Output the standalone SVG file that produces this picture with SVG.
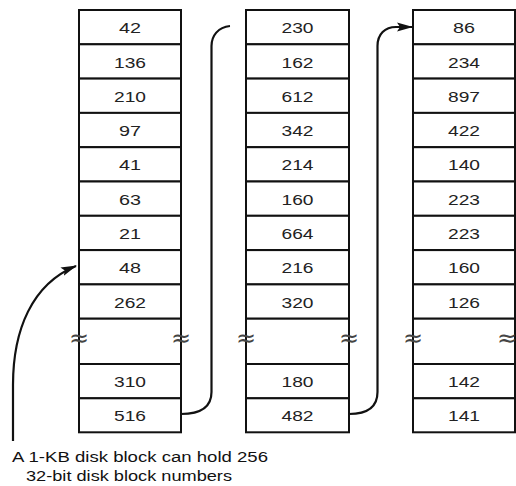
<svg xmlns="http://www.w3.org/2000/svg" width="516" height="486" viewBox="0 0 516 486">
<style>
.cell{fill:#fff;stroke:#111;stroke-width:2}
.num{font-family:"Liberation Sans",Arial,sans-serif;font-size:15.5px;fill:#222;text-anchor:middle}
.brk{font-family:"DejaVu Sans","Liberation Sans",sans-serif;font-size:24px;fill:#444;text-anchor:middle}
.cap{font-family:"Liberation Sans",Arial,sans-serif;font-size:15.5px;fill:#111}
.con{fill:none;stroke:#111;stroke-width:2.2}
</style>
<defs>
<marker id="ah" markerUnits="userSpaceOnUse" markerWidth="16" markerHeight="10" viewBox="0 0 16 10" refX="15" refY="5" orient="auto">
<path d="M0,0.5 L16,5 L0,9.5 L3,5 z" fill="#111"/>
</marker>
</defs>
<rect width="516" height="486" fill="#fff"/>
<g id="block1">
<rect class="cell" x="79" y="10" width="102" height="34.3"/>
<rect class="cell" x="79" y="44.3" width="102" height="34.3"/>
<rect class="cell" x="79" y="78.6" width="102" height="34.3"/>
<rect class="cell" x="79" y="112.9" width="102" height="34.3"/>
<rect class="cell" x="79" y="147.2" width="102" height="34.3"/>
<rect class="cell" x="79" y="181.5" width="102" height="34.3"/>
<rect class="cell" x="79" y="215.8" width="102" height="34.3"/>
<rect class="cell" x="79" y="250.1" width="102" height="34.3"/>
<rect class="cell" x="79" y="284.4" width="102" height="34.3"/>
<rect class="cell" x="79" y="318.7" width="102" height="45.3"/>
<rect class="cell" x="79" y="364" width="102" height="34.3"/>
<rect class="cell" x="79" y="398.3" width="102" height="34"/>
<text class="num" x="130" y="33.2" textLength="22" lengthAdjust="spacingAndGlyphs">42</text>
<text class="num" x="130" y="67.5" textLength="32" lengthAdjust="spacingAndGlyphs">136</text>
<text class="num" x="130" y="101.8" textLength="32" lengthAdjust="spacingAndGlyphs">210</text>
<text class="num" x="130" y="136.1" textLength="22" lengthAdjust="spacingAndGlyphs">97</text>
<text class="num" x="130" y="170.4" textLength="22" lengthAdjust="spacingAndGlyphs">41</text>
<text class="num" x="130" y="204.7" textLength="22" lengthAdjust="spacingAndGlyphs">63</text>
<text class="num" x="130" y="239" textLength="22" lengthAdjust="spacingAndGlyphs">21</text>
<text class="num" x="130" y="273.3" textLength="22" lengthAdjust="spacingAndGlyphs">48</text>
<text class="num" x="130" y="307.6" textLength="32" lengthAdjust="spacingAndGlyphs">262</text>
<text class="brk" x="79" y="346">≈</text>
<text class="brk" x="181" y="346">≈</text>
<text class="num" x="130" y="387.2" textLength="32" lengthAdjust="spacingAndGlyphs">310</text>
<text class="num" x="130" y="421.4" textLength="32" lengthAdjust="spacingAndGlyphs">516</text>
</g>
<g id="block2">
<rect class="cell" x="246" y="10" width="103" height="34.3"/>
<rect class="cell" x="246" y="44.3" width="103" height="34.3"/>
<rect class="cell" x="246" y="78.6" width="103" height="34.3"/>
<rect class="cell" x="246" y="112.9" width="103" height="34.3"/>
<rect class="cell" x="246" y="147.2" width="103" height="34.3"/>
<rect class="cell" x="246" y="181.5" width="103" height="34.3"/>
<rect class="cell" x="246" y="215.8" width="103" height="34.3"/>
<rect class="cell" x="246" y="250.1" width="103" height="34.3"/>
<rect class="cell" x="246" y="284.4" width="103" height="34.3"/>
<rect class="cell" x="246" y="318.7" width="103" height="45.3"/>
<rect class="cell" x="246" y="364" width="103" height="34.3"/>
<rect class="cell" x="246" y="398.3" width="103" height="34"/>
<text class="num" x="297.5" y="33.2" textLength="32" lengthAdjust="spacingAndGlyphs">230</text>
<text class="num" x="297.5" y="67.5" textLength="32" lengthAdjust="spacingAndGlyphs">162</text>
<text class="num" x="297.5" y="101.8" textLength="32" lengthAdjust="spacingAndGlyphs">612</text>
<text class="num" x="297.5" y="136.1" textLength="32" lengthAdjust="spacingAndGlyphs">342</text>
<text class="num" x="297.5" y="170.4" textLength="32" lengthAdjust="spacingAndGlyphs">214</text>
<text class="num" x="297.5" y="204.7" textLength="32" lengthAdjust="spacingAndGlyphs">160</text>
<text class="num" x="297.5" y="239" textLength="32" lengthAdjust="spacingAndGlyphs">664</text>
<text class="num" x="297.5" y="273.3" textLength="32" lengthAdjust="spacingAndGlyphs">216</text>
<text class="num" x="297.5" y="307.6" textLength="32" lengthAdjust="spacingAndGlyphs">320</text>
<text class="brk" x="246" y="346">≈</text>
<text class="brk" x="349" y="346">≈</text>
<text class="num" x="297.5" y="387.2" textLength="32" lengthAdjust="spacingAndGlyphs">180</text>
<text class="num" x="297.5" y="421.4" textLength="32" lengthAdjust="spacingAndGlyphs">482</text>
</g>
<g id="block3">
<rect class="cell" x="413" y="10" width="102" height="34.3"/>
<rect class="cell" x="413" y="44.3" width="102" height="34.3"/>
<rect class="cell" x="413" y="78.6" width="102" height="34.3"/>
<rect class="cell" x="413" y="112.9" width="102" height="34.3"/>
<rect class="cell" x="413" y="147.2" width="102" height="34.3"/>
<rect class="cell" x="413" y="181.5" width="102" height="34.3"/>
<rect class="cell" x="413" y="215.8" width="102" height="34.3"/>
<rect class="cell" x="413" y="250.1" width="102" height="34.3"/>
<rect class="cell" x="413" y="284.4" width="102" height="34.3"/>
<rect class="cell" x="413" y="318.7" width="102" height="45.3"/>
<rect class="cell" x="413" y="364" width="102" height="34.3"/>
<rect class="cell" x="413" y="398.3" width="102" height="34"/>
<text class="num" x="464" y="33.2" textLength="22" lengthAdjust="spacingAndGlyphs">86</text>
<text class="num" x="464" y="67.5" textLength="32" lengthAdjust="spacingAndGlyphs">234</text>
<text class="num" x="464" y="101.8" textLength="32" lengthAdjust="spacingAndGlyphs">897</text>
<text class="num" x="464" y="136.1" textLength="32" lengthAdjust="spacingAndGlyphs">422</text>
<text class="num" x="464" y="170.4" textLength="32" lengthAdjust="spacingAndGlyphs">140</text>
<text class="num" x="464" y="204.7" textLength="32" lengthAdjust="spacingAndGlyphs">223</text>
<text class="num" x="464" y="239" textLength="32" lengthAdjust="spacingAndGlyphs">223</text>
<text class="num" x="464" y="273.3" textLength="32" lengthAdjust="spacingAndGlyphs">160</text>
<text class="num" x="464" y="307.6" textLength="32" lengthAdjust="spacingAndGlyphs">126</text>
<text class="brk" x="413" y="346">≈</text>
<text class="brk" x="507" y="346">≈</text>
<text class="num" x="464" y="387.2" textLength="32" lengthAdjust="spacingAndGlyphs">142</text>
<text class="num" x="464" y="421.4" textLength="32" lengthAdjust="spacingAndGlyphs">141</text>
</g>
<g id="connectors">
<path class="con" d="M181,414 C200,414 211.5,407 211.5,392 L211.5,46 C211.5,36 218,27 230,26"/>
<path class="con" d="M349,414 C367,414 377.5,407 377.5,392 L377.5,46 C377.5,34 385,27 396,27 L412,27" marker-end="url(#ah)"/>
<path class="con" d="M13,441 L13,385 C13,330 32,284 76,266" marker-end="url(#ah)"/>
</g>
<g id="caption">
<text class="cap" x="12" y="461.5" textLength="256" lengthAdjust="spacingAndGlyphs">A 1-KB disk block can hold 256</text>
<text class="cap" x="26" y="480.5" textLength="206" lengthAdjust="spacingAndGlyphs">32-bit disk block numbers</text>
</g>
</svg>
